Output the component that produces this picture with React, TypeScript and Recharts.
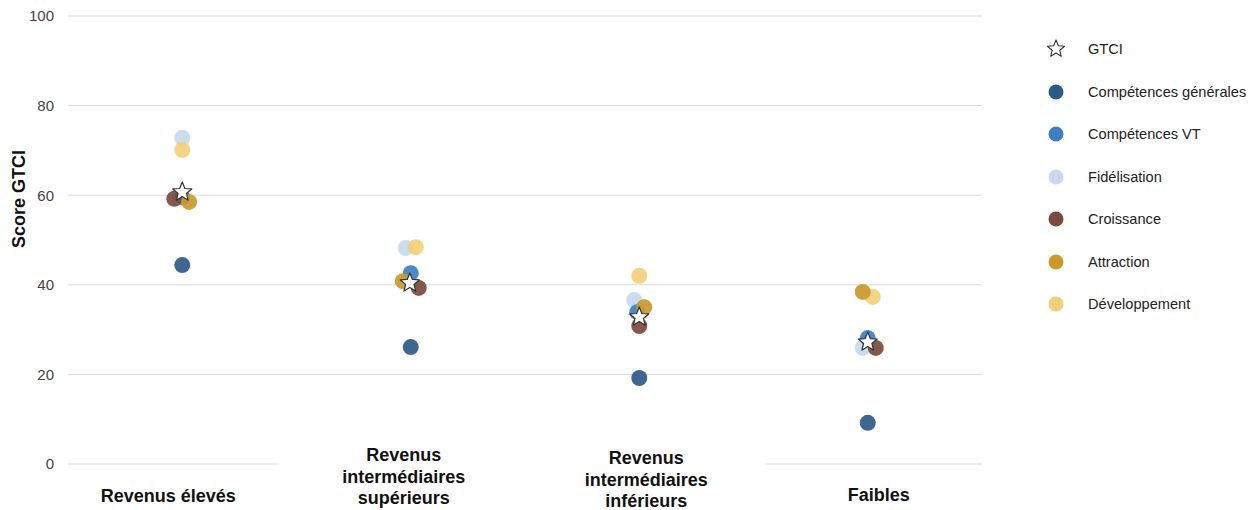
import React from 'react'
import { ScatterChart, Scatter, XAxis, YAxis, CartesianGrid } from 'recharts'

const categories = [
  'Revenus élevés',
  'Revenus intermédiaires supérieurs',
  'Revenus intermédiaires inférieurs',
  'Faibles',
]
const categoryLines = [
  ['Revenus élevés'],
  ['Revenus', 'intermédiaires', 'supérieurs'],
  ['Revenus', 'intermédiaires', 'inférieurs'],
  ['Faibles'],
]
const yTicks = [0, 20, 40, 60, 80, 100]

// scores per category
const gtci = [60.7, 40.4, 32.8, 27.2]
const compGen = [44.4, 26.1, 19.2, 9.2]
const compVT = [59.6, 42.6, 33.9, 28.1]
const fidel = [72.8, 48.2, 36.6, 25.9]
const crois = [59.2, 39.3, 30.8, 25.9]
const attr = [58.5, 40.8, 35.0, 38.4]
const dev = [70.1, 48.4, 42.0, 37.3]

// small horizontal jitter inside each category (share of category width)
const jGtci = [0, -0.004, 0, 0]
const jCompGen = [0, 0, 0, 0]
const jCompVT = [0, 0, -0.009, 0]
const jFidel = [0, -0.022, -0.022, -0.022]
const jCrois = [-0.035, 0.035, 0, 0.035]
const jAttr = [0.03, -0.035, 0.022, -0.022]
const jDev = [0, 0.022, 0, 0.022]

const FONT = '"Liberation Sans", Arial, Helvetica, sans-serif'

// label boxes are not exactly centred on the categories in the original
const labelShift = [-14, -7, 7, 11]
const labelBottom = [30, 32, 35, 29]

const toPoints = (vals: number[], jit: number[]) =>
  vals.map((v, i) => ({ x: i + 0.5 + jit[i], y: v, cat: categories[i] }))

const starPath = (cx: number, cy: number, ro: number, ri: number) => {
  let d = ''
  for (let k = 0; k < 10; k++) {
    const r = k % 2 === 0 ? ro : ri
    const a = -Math.PI / 2 + (k * Math.PI) / 5
    d += (k === 0 ? 'M' : 'L') + (cx + r * Math.cos(a)).toFixed(2) + ',' + (cy + r * Math.sin(a)).toFixed(2)
  }
  return d + 'Z'
}

const Star = (props: any) => (
  <path d={starPath(props.cx, props.cy, 10, 4.4)} fill="#fff" stroke="#333" strokeWidth={1.2} strokeLinejoin="round" />
)

const dot = (color: string) => (props: any) => (
  <circle cx={props.cx} cy={props.cy} r={8} fill={color} fillOpacity={0.92} />
)

const series = [
  { name: 'Compétences générales', color: '#2c5a88', data: toPoints(compGen, jCompGen) },
  { name: 'Fidélisation', color: '#c8d9ee', data: toPoints(fidel, jFidel) },
  { name: 'Développement', color: '#f2cf7a', data: toPoints(dev, jDev) },
  { name: 'Compétences VT', color: '#3e7fc3', data: toPoints(compVT, jCompVT) },
  { name: 'Croissance', color: '#7a4a3c', data: toPoints(crois, jCrois) },
  { name: 'Attraction', color: '#c9992d', data: toPoints(attr, jAttr) },
]

const legendItems = [
  { name: 'GTCI', color: '' },
  { name: 'Compétences générales', color: '#2c5a88' },
  { name: 'Compétences VT', color: '#3e7fc3' },
  { name: 'Fidélisation', color: '#c8d9ee' },
  { name: 'Croissance', color: '#7a4a3c' },
  { name: 'Attraction', color: '#c9992d' },
  { name: 'Développement', color: '#f2cf7a' },
]

const CategoryTick = (props: any) => {
  const { x, y, payload } = props
  const idx = Math.floor(payload.value)
  const lines = categoryLines[idx] || []
  const cx = x + (labelShift[idx] || 0)
  const last = y + (labelBottom[idx] || 30)
  return (
    <g>
      {lines.length > 1 && <rect x={cx - 125} y={y - 16} width={245} height={60} fill="#fff" />}
      <text textAnchor="middle" fontFamily={FONT} fontWeight="bold" fontSize={18} fill="#111">
        {lines.map((l, i) => (
          <tspan key={i} x={cx} y={last - (lines.length - 1 - i) * 21.5}>{l}</tspan>
        ))}
      </text>
    </g>
  )
}

const YLabel = () => (
  <text x={25} y={199} transform="rotate(-90 25 199)" textAnchor="middle" fontFamily={FONT} fontWeight="bold" fontSize={18} fill="#111">
    Score GTCI
  </text>
)

export default function App() {
  return (
    <div style={{ position: 'absolute', left: 0, top: 0, width: 1260, height: 510, background: '#fff' }}>
      <ScatterChart width={1260} height={510} margin={{ top: 16, right: 278, bottom: 0, left: 0 }}>
        <CartesianGrid vertical={false} stroke="#d9d9d9" />
        <XAxis
          type="number"
          dataKey="x"
          domain={[0, 4]}
          ticks={[0.5, 1.5, 2.5, 3.5]}
          interval={0}
          height={46}
          axisLine={false}
          tickLine={false}
          tick={<CategoryTick />}
        />
        <YAxis
          type="number"
          dataKey="y"
          domain={[0, 100]}
          ticks={yTicks}
          width={68}
          axisLine={false}
          tickLine={false}
          tickMargin={8}
          tick={{ fontSize: 15, fill: '#444', fontFamily: FONT }}
          label={<YLabel />}
        />
        {series.map(s => (
          <Scatter key={s.name} name={s.name} data={s.data} fill={s.color} shape={dot(s.color)} isAnimationActive={false} />
        ))}
        <Scatter name="GTCI" data={toPoints(gtci, jGtci)} fill="#fff" shape={Star} isAnimationActive={false} />
      </ScatterChart>
      <div style={{ position: 'absolute', left: 1046, top: 28, fontFamily: FONT, fontSize: 14.6, color: '#222' }}>
        {legendItems.map(it => (
          <div key={it.name} style={{ display: 'flex', alignItems: 'center', height: 42.5 }}>
            <svg width={20} height={20} style={{ marginRight: 22 }}>
              {it.color ? (
                <circle cx={10} cy={10} r={7.5} fill={it.color} />
              ) : (
                <path d={starPath(10, 10, 9, 4)} fill="#fff" stroke="#333" strokeWidth={1.1} strokeLinejoin="round" />
              )}
            </svg>
            <span style={{ whiteSpace: 'nowrap' }}>{it.name}</span>
          </div>
        ))}
      </div>
    </div>
  )
}
